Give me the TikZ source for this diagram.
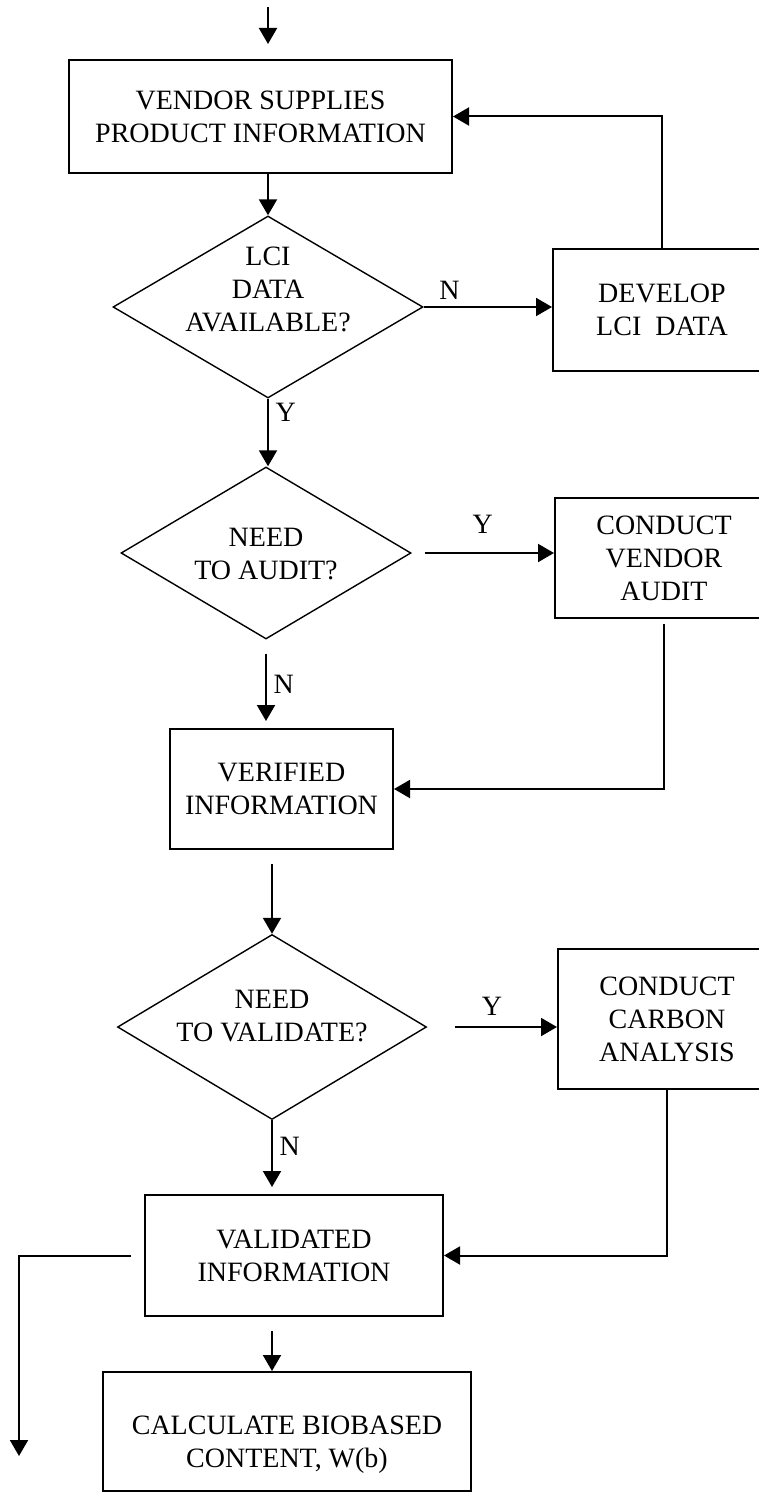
\documentclass[tikz,border=0pt]{standalone}
\usepackage{fontspec}
\setmainfont{Liberation Serif}
\usetikzlibrary{arrows.meta,shapes.geometric}
% text block moved up or down inside its shape
\newcommand{\shifttext}[2]{\raisebox{#1}[0pt][0pt]{\begin{tabular}{@{}c@{}}#2\end{tabular}}}

\begin{document}
\begin{tikzpicture}[x=0.5pt, y=-0.5pt,
  every node/.style={font=\fontsize{14}{16.5}\selectfont, align=center},
  box/.style={draw, line width=1pt, inner sep=2pt},
  decision/.style={draw, diamond, line width=0.7pt, inner sep=-3pt, aspect=1.7},
  arr/.style={line width=1pt, -{Triangle[length=8pt,width=9pt]}}]
  \useasboundingbox (0,0) rectangle (759,1492);

  % main column
  \node[box, minimum width=191.5pt, minimum height=56.5pt] (vendor) at (260.5,116.5) {VENDOR SUPPLIES\\PRODUCT INFORMATION};
  \node[decision, minimum width=155pt, minimum height=91pt] (lci) at (268,307) {\shifttext{3.75pt}{LCI\\DATA\\AVAILABLE?}};
  \node[decision, minimum width=145pt, minimum height=86pt] (audit) at (266,553) {\shifttext{-5.5pt}{NEED\\TO AUDIT?}};
  \node[box, minimum width=111.5pt, minimum height=60pt] (verified) at (281.5,789) {VERIFIED\\INFORMATION};
  \node[decision, minimum width=154.5pt, minimum height=92.5pt] (validate) at (272,1027) {\shifttext{0.5pt}{NEED\\TO VALIDATE?}};
  \node[box, minimum width=149pt, minimum height=60.5pt] (validated) at (294,1255.5) {VALIDATED\\INFORMATION};
  \node[box, minimum width=184pt, minimum height=59.5pt] (calc) at (287,1431.5) {\shifttext{-10pt}{CALCULATE BIOBASED\\CONTENT, W(b)}};

  % right column
  \node[box, minimum width=109pt, minimum height=61pt] (develop) at (662,310) {DEVELOP\\LCI~~DATA};
  \node[box, minimum width=109pt, minimum height=60pt] (vaudit) at (664,558) {CONDUCT\\VENDOR\\AUDIT};
  \node[box, minimum width=109pt, minimum height=70pt] (carbon) at (667,1019) {CONDUCT\\CARBON\\ANALYSIS};

  \coordinate (in) at (268,7);
  \coordinate (out) at (19,1456);

  % connectors
  \draw[arr, shorten >=7.5pt] (in) -- (in |- vendor.north);
  \draw[arr] (lci.north |- vendor.south) -- (lci.north);
  \draw[arr] (lci.east) -- (lci.east -| develop.west) node[pos=0.2, above] {N};
  \draw[arr] (develop.north) -- (develop.north |- vendor.east) -- (vendor.east);
  \draw[arr] (lci.south) -- (lci.south |- audit.north) node[pos=0.2, right] {Y};
  \draw[arr, shorten <=6.5pt] (audit.east) -- (audit.east -| vaudit.west) node[midway, above, yshift=6pt] {Y};
  \draw[arr, shorten <=7pt, shorten >=3.5pt] (audit.south) -- (audit.south |- verified.north) node[midway, right] {N};
  \draw[arr, shorten <=2.5pt] (vaudit.south) -- (vaudit.south |- verified.east) -- (verified.east);
  \draw[arr, shorten <=7pt] (validate.north |- verified.south) -- (validate.north);
  \draw[arr, shorten <=14pt] (validate.east) -- (validate.east -| carbon.west) node[midway, above, yshift=2pt] {Y};
  \draw[arr, shorten >=3.5pt] (validate.south) -- (validate.south |- validated.north) node[pos=0.35, right] {N};
  \draw[arr] (carbon.south) -- (carbon.south |- validated.east) -- (validated.east);
  \draw[arr, shorten <=7pt] (validated.south -| validate.south) -- (calc.north -| validate.south);
  \draw[arr, shorten <=6.5pt] (validated.west) -- (validated.west -| out) -- (out);
\end{tikzpicture}
\end{document}
